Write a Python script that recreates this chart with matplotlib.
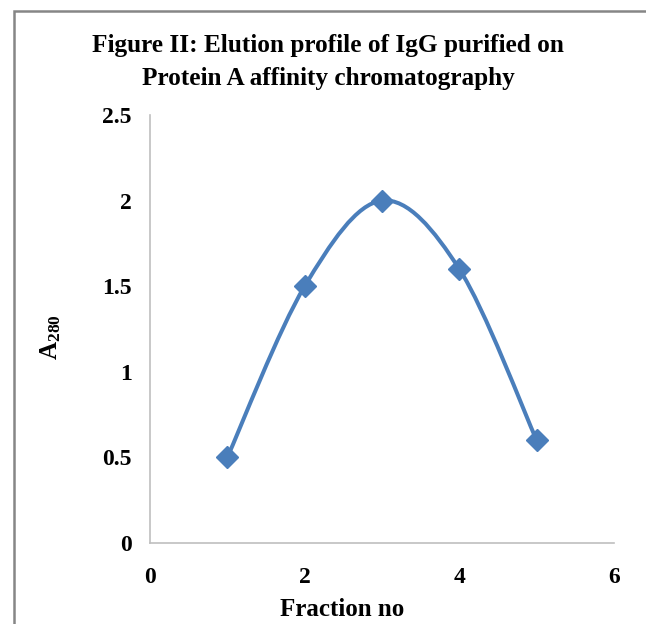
import numpy as np
import matplotlib.pyplot as plt
from matplotlib.path import Path
from matplotlib.patches import PathPatch, Rectangle

fraction = [1, 2, 3, 4, 5]
a280 = [0.5, 1.5, 2.0, 1.6, 0.6]
xticks = [0, 2, 4, 6]
yticks = [0, 0.5, 1, 1.5, 2, 2.5]
ytick_labels = ['0', '0.5', '1', '1.5', '2', '2.5']

plt.rcParams['font.family'] = 'Liberation Serif'
plt.rcParams['font.weight'] = 'bold'
plt.rcParams['mathtext.fontset'] = 'custom'
plt.rcParams['mathtext.rm'] = 'Liberation Serif:bold'
plt.rcParams['mathtext.default'] = 'rm'

blue = '#4a7ebb'
grey = '#bfbfbf'

fig = plt.figure(figsize=(6.46, 6.24), dpi=100)
ax = fig.add_axes([150/646, 1-543/624, 464/646, 428/624])

# Excel-style smoothed line: cubic bezier segments through the points
px = np.array(fraction, dtype=float)
py = np.array(a280, dtype=float)
pts = np.column_stack([px, py])
verts = [pts[0]]
codes = [Path.MOVETO]
n = len(pts)
for i in range(n - 1):
    p0 = pts[max(i - 1, 0)]
    p1 = pts[i]
    p2 = pts[i + 1]
    p3 = pts[min(i + 2, n - 1)]
    c1 = p1 + (p2 - p0) / 6
    c2 = p2 - (p3 - p1) / 6
    verts += [c1, c2, p2]
    codes += [Path.CURVE4] * 3
ax.add_patch(PathPatch(Path(verts, codes), fill=False, edgecolor=blue, lw=2.9, zorder=2))
ax.plot(fraction, a280, linestyle='none', marker='D', markersize=11, color=blue, zorder=3)

ax.set_xlim(0, 6)
ax.set_ylim(0, 2.5)
ax.set_xticks(xticks)
ax.set_yticks(yticks)
ax.set_yticklabels(ytick_labels)
ax.tick_params(length=0, labelsize=17)
ax.tick_params(axis='x', pad=17)
ax.tick_params(axis='y', pad=13)
for s in ['top', 'right']:
    ax.spines[s].set_visible(False)
for s in ['left', 'bottom']:
    ax.spines[s].set_color(grey)
    ax.spines[s].set_linewidth(1.2)

ax.set_xlabel('Fraction no', fontsize=18, fontweight='bold')
ax.xaxis.set_label_coords(0.414, -0.128)
ax.set_ylabel('A$_{280}$', fontsize=18, fontweight='bold')
ax.yaxis.set_label_coords(-0.187, 0.48)

fig.text(0.508, 1 - 62/624, 'Figure II: Elution profile of IgG purified on\nProtein A affinity chromatography',
         ha='center', va='center', fontsize=18.2, fontweight='bold', linespacing=1.55)

fig.patches.append(Rectangle((14/646, -0.1), 1.2, 1 - 11/624 + 0.1, transform=fig.transFigure,
                             fill=False, edgecolor='#868686', lw=1.8))

fig.savefig('out.png', dpi=100)
